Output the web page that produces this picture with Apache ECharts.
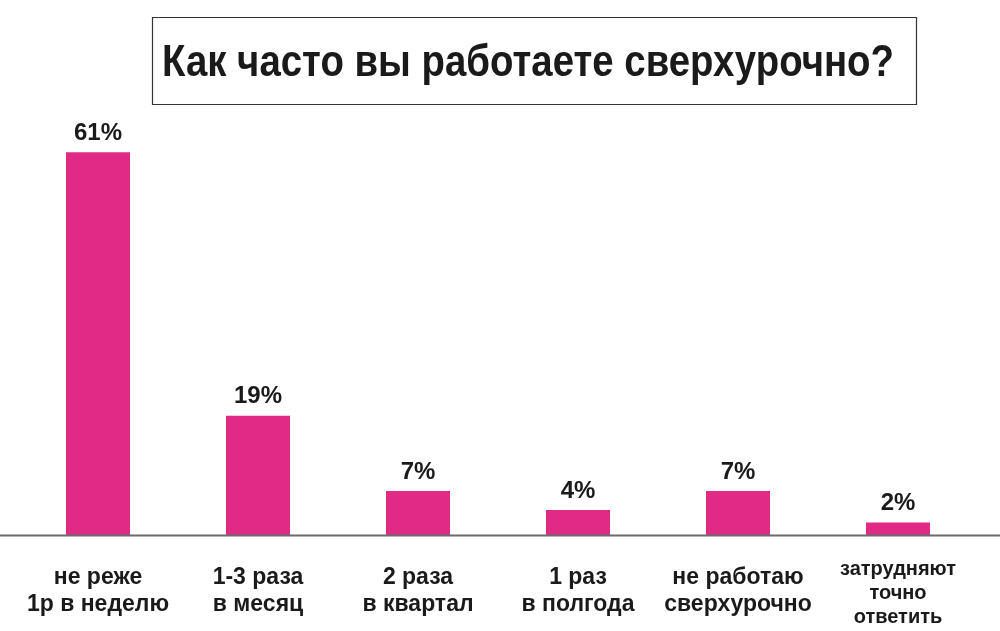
<!DOCTYPE html>
<html>
<head>
<meta charset="utf-8">
<script src="https://cdn.jsdelivr.net/npm/echarts@6/dist/echarts.min.js"></script>
<style>
  html, body { margin: 0; padding: 0; background: #fff; }
  #chart { width: 1000px; height: 631px; }
</style>
</head>
<body>
<div id="chart"></div>
<script>
var titleText = 'Как часто вы работаете сверхурочно?';
var categories = [
  'не реже\n1р в неделю',
  '1-3 раза\nв месяц',
  '2 раза\nв квартал',
  '1 раз\nв полгода',
  'не работаю\nсверхурочно',
  'затрудняют\nточно\nответить'
];
var shares = [61, 19, 7, 4, 7, 2];

var barColor = '#E02A86';
var textColor = '#1a1a1a';

var myChart = echarts.init(document.getElementById('chart'));

var catData = categories.map(function(c) {
  if (c.split('\n').length > 2) {
    return { value: c, textStyle: { lineHeight: 24, fontSize: 20, padding: [-7, 0, 0, 0] } };
  }
  return c;
});

var option = {
  animation: false,
  backgroundColor: '#fff',
  grid: { left: 18, right: 22, top: 33, bottom: 96, containLabel: false, outerBoundsMode: 'none' },
  xAxis: {
    type: 'category',
    data: catData,
    axisLine: { show: false },
    axisTick: { show: false },
    axisLabel: {
      interval: 0,
      margin: 29,
      color: textColor,
      fontFamily: 'Liberation Sans, Arial, sans-serif',
      fontWeight: 'bold',
      fontSize: 23,
      lineHeight: 27
    }
  },
  yAxis: {
    type: 'value',
    min: 0,
    max: 80,
    show: false,
    splitLine: { show: false }
  },
  series: [{
    type: 'bar',
    data: shares,
    barWidth: 64,
    itemStyle: { color: barColor },
    label: {
      show: true,
      position: 'top',
      distance: 7,
      formatter: '{c}%',
      color: textColor,
      fontFamily: 'Liberation Sans, Arial, sans-serif',
      fontWeight: 'bold',
      fontSize: 24
    }
  }],
  graphic: [
    {
      type: 'line',
      shape: { x1: 0, y1: 535.5, x2: 1000, y2: 535.5 },
      style: { stroke: '#6b6b6b', lineWidth: 2 },
      z: 10
    },
    {
      type: 'rect',
      shape: { x: 152.5, y: 17.5, width: 764, height: 87 },
      style: { fill: '#fff', stroke: '#333', lineWidth: 1.2 }
    },
    {
      type: 'text',
      x: 528,
      y: 64,
      scaleX: 0.853,
      style: {
        text: titleText,
        align: 'center',
        verticalAlign: 'middle',
        fill: '#1a1a1a',
        font: 'bold 45px "Liberation Sans", Arial, sans-serif'
      }
    }
  ]
};

myChart.setOption(option);
</script>
</body>
</html>
